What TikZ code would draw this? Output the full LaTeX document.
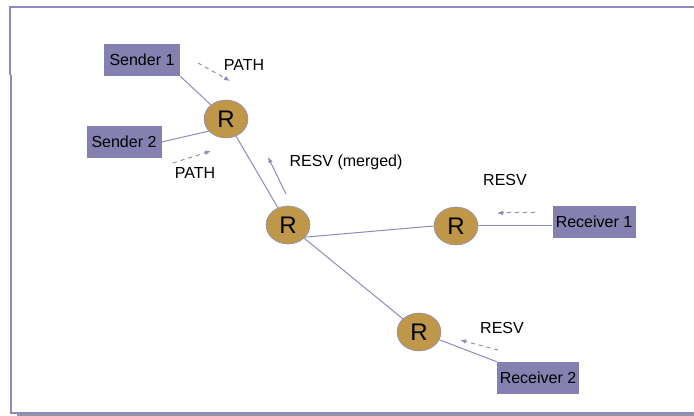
\documentclass[tikz,border=0pt]{standalone}
\usepackage{fontspec}
\setmainfont{Liberation Sans}
\usetikzlibrary{arrows.meta,shapes.geometric}
\definecolor{boxfill}{RGB}{132,128,176}
\definecolor{rfill}{RGB}{190,152,72}
\definecolor{edge}{RGB}{140,138,192}
\definecolor{shadow}{RGB}{150,150,160}
\begin{document}
\begin{tikzpicture}[x=0.75pt,y=-0.75pt,
  router/.style={ellipse,draw=edge,fill=rfill,minimum width=44*0.75pt,minimum height=38*0.75pt,inner sep=0pt,font=\fontsize{18}{20}\selectfont},
  hostbox/.style={rectangle,fill=boxfill,minimum height=32*0.75pt,inner sep=0pt,font=\fontsize{12}{14}\selectfont},
  link/.style={draw=edge,line width=0.75pt},
  sig/.style={draw=edge,dashed,line width=0.75pt,-{Latex[length=4.5pt,width=3.5pt]}},
  lbl/.style={font=\fontsize{12}{14}\selectfont,inner sep=0pt}]
  \useasboundingbox (0,0) rectangle (694,416);

  % Frame
  \draw[edge,line width=1.2pt] (10,75) -- (10,7) -- (694,7);
  \draw[edge,line width=1.2pt] (11,75) -- (11,413) -- (694,413);
  \fill[shadow] (17,414) rectangle (694,416);

  % Hosts
  \node[hostbox,minimum width=76*0.75pt] (s1) at (142,60) {Sender 1};
  \node[hostbox,minimum width=75*0.75pt] (s2) at (124,142) {Sender 2};
  \node[hostbox,minimum width=83*0.75pt] (rc1) at (594,222) {Receiver 1};
  \node[hostbox,minimum width=82*0.75pt] (rc2) at (538,378) {Receiver 2};

  % Routers
  \node[router] (r1) at (226,119) {R};
  \node[router] (r2) at (288,225) {R};
  \node[router] (r3) at (456,226) {R};
  \node[router] (r4) at (419,332) {R};

  % Links
  \draw[link] (s1.south east) -- (r1);
  \draw[link] (s2.east) -- (r1.-145);
  \draw[link] (r1) -- (r2);
  \draw[link] (r2.-35) -- (r3.west);
  \draw[link] (r3.east) -- (r3.east -| rc1.west);
  \draw[link] (r2) -- (r4);
  \draw[link] (r4) -- (rc2.north west);

  % Messages
  \coordinate (p1a) at (198,63);  \coordinate (p1b) at (230,81);
  \coordinate (p2a) at (173,163); \coordinate (p2b) at (211,151);
  \coordinate (ma) at (286,194);  \coordinate (mb) at (268,157);
  \coordinate (q1a) at (535,213); \coordinate (q1b) at (497,213);
  \coordinate (q2a) at (498,350); \coordinate (q2b) at (460,340);
  \draw[sig] (p1a) -- (p1b);
  \draw[sig] (p2a) -- (p2b);
  \draw[sig,solid] (ma) -- (mb);
  \draw[sig] (q1a) -- (q1b);
  \draw[sig] (q2a) -- (q2b);

  \node[lbl] (t1) at (244,65) {PATH};
  \node[lbl] (t2) at (195,173) {PATH};
  \node[lbl] (t3) at (346,162) {RESV (merged)};
  \node[lbl] (t4) at (505,180) {RESV};
  \node[lbl] (t5) at (502,328) {RESV};
\end{tikzpicture}
\end{document}
